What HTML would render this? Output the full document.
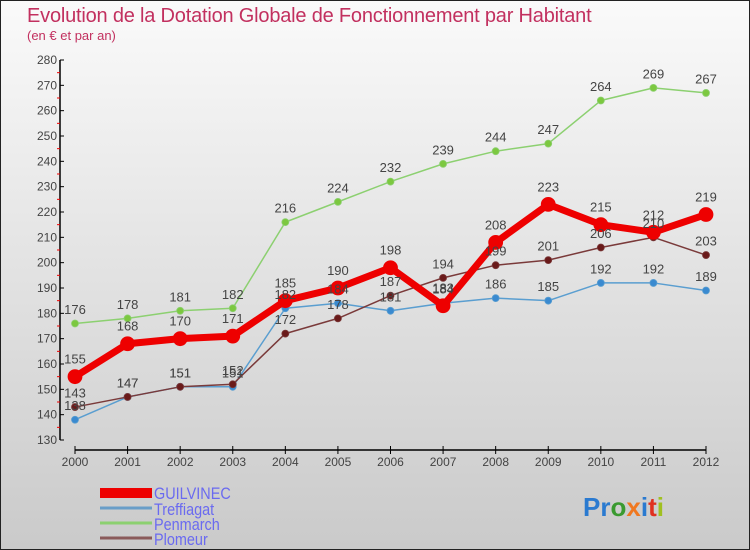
<!DOCTYPE html>
<html><head><meta charset="utf-8"><style>
body{margin:0;}
#wrap{position:relative;width:750px;height:550px;overflow:hidden;font-family:"Liberation Sans",sans-serif;}
svg{display:block;}
</style></head><body>
<div id="wrap">
<svg id="chart" width="750" height="550" viewBox="0 0 750 550">
<defs><linearGradient id="bg" x1="0" y1="0" x2="0" y2="1"><stop offset="0" stop-color="#fafafa"/><stop offset="1" stop-color="#cacaca"/></linearGradient></defs>
<rect x="0.5" y="0.5" width="749" height="549" fill="url(#bg)" stroke="#222"/>
<text x="27" y="22" font-size="20" fill="#c2305f" letter-spacing="-0.2">Evolution de la Dotation Globale de Fonctionnement par Habitant</text>
<text x="27" y="40" font-size="13" fill="#c2305f">(en € et par an)</text>
<g id="axes"></g><g id="series"></g><g id="labels"></g>
<g>
<rect x="100" y="488" width="52" height="10" fill="#e00"/>
<text x="154" y="499" font-size="17" fill="#6a6af0" transform="translate(154 0) scale(0.85 1) translate(-154 0)">GUILVINEC</text>
<line x1="100" y1="508" x2="152" y2="508" stroke="#6a9ec8" stroke-width="3"/>
<text x="154" y="515" font-size="17" fill="#6a6af0" transform="translate(154 0) scale(0.85 1) translate(-154 0)">Treffiagat</text>
<line x1="100" y1="523" x2="152" y2="523" stroke="#8cd070" stroke-width="3"/>
<text x="154" y="530" font-size="17" fill="#6a6af0" transform="translate(154 0) scale(0.85 1) translate(-154 0)">Penmarch</text>
<line x1="100" y1="538" x2="152" y2="538" stroke="#8a5a5a" stroke-width="3"/>
<text x="154" y="545" font-size="17" fill="#6a6af0" transform="translate(154 0) scale(0.85 1) translate(-154 0)">Plomeur</text>
</g>
<text x="583" y="516" font-size="26" font-weight="bold"><tspan fill="#2a7ad0">P</tspan><tspan fill="#2a7ad0">r</tspan><tspan fill="#3a9a30">o</tspan><tspan fill="#f07820">x</tspan><tspan fill="#2a7ad0">i</tspan><tspan fill="#e03020">t</tspan><tspan fill="#a0c020">i</tspan></text>
</svg>
</div>
<script>
const years=[2000,2001,2002,2003,2004,2005,2006,2007,2008,2009,2010,2011,2012];
const guilvinec=[155,168,170,171,185,190,198,183,208,223,215,212,219];
const treffiagat=[138,147,151,151,182,184,181,184,186,185,192,192,189];
const penmarch=[176,178,181,182,216,224,232,239,244,247,264,269,267];
const plomeur=[143,147,151,152,172,178,187,194,199,201,206,210,203];
const yTicks=[130,140,150,160,170,180,190,200,210,220,230,240,250,260,270,280];

const NS="http://www.w3.org/2000/svg";
function xS(i){return 75+i*(706-75)/(years.length-1);}
function yS(v){return 440-(v-130)*(380/150);}
function mk(tag,attrs,parent){const e=document.createElementNS(NS,tag);for(const k in attrs)e.setAttribute(k,attrs[k]);parent.appendChild(e);return e;}
const axes=document.getElementById('axes'),ser=document.getElementById('series'),lab=document.getElementById('labels');

let yl=mk('line',{x1:60,y1:yS(280),x2:60,y2:yS(130),stroke:'#000','stroke-width':1.5},axes);


yTicks.forEach((t,k)=>{
  let tk=mk('line',{x1:60,y1:yS(t),x2:64,y2:yS(t),stroke:'#000'},axes);
  
  
  let tx=mk('text',{x:57,y:yS(t)+4,'font-size':12,fill:'#444','text-anchor':'end'},axes);
  tx.textContent=t;
  
  
  if(k<yTicks.length-1){
    let mt=mk('line',{x1:57,y1:yS(t+5),x2:60,y2:yS(t+5),stroke:'#e00'},axes);
    
    
  }
});
let xl=mk('line',{x1:xS(0),y1:450,x2:xS(years.length-1),y2:450,stroke:'#000','stroke-width':1.5},axes);


years.forEach((y,i)=>{
  let tk=mk('line',{x1:xS(i),y1:446,x2:xS(i),y2:454,stroke:'#000'},axes);
  
  
  let tx=mk('text',{x:xS(i),y:466,'font-size':12,fill:'#444','text-anchor':'middle'},axes);
  tx.textContent=y;
  
  
});

function drawSeries(vals,name,color,dot,w,r){
  const pts=vals.map((v,i)=>xS(i)+','+yS(v)).join(' ');
  let pl=mk('polyline',{points:pts,fill:'none',stroke:color,'stroke-width':w,'stroke-linejoin':'round'},ser);
  
  
  vals.forEach((v,i)=>{
    let c=mk('circle',{cx:xS(i),cy:yS(v),r:r,fill:dot,stroke:color,'stroke-width':0.8},ser);
    
    
    let t=mk('text',{x:xS(i),y:yS(v)-(r+6),'font-size':13,fill:'#444','text-anchor':'middle'},lab);
    t.textContent=v;
    
    
  });
}
drawSeries(penmarch,'penmarch','#8cd070','#7cc840',1.5,3.5);
drawSeries(treffiagat,'treffiagat','#5a9ed0','#3a8ad0',1.5,3.5);
drawSeries(plomeur,'plomeur','#7a3a3a','#6a1a1a',1.5,3.5);
drawSeries(guilvinec,'guilvinec','#e00','#e00',7,7);
</script>
</body></html>
